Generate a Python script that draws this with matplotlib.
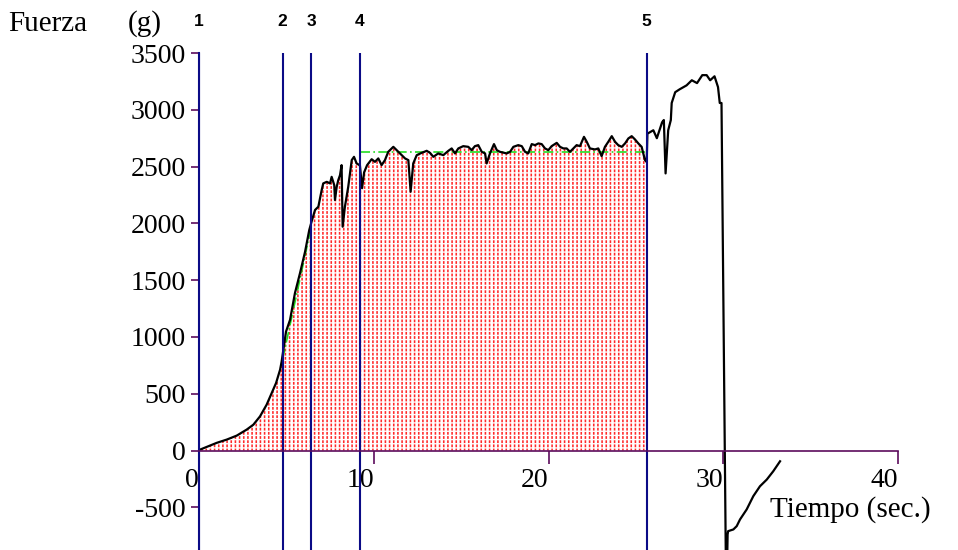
import numpy as np
import matplotlib
matplotlib.use("Agg")
import matplotlib.pyplot as plt
from matplotlib.transforms import blended_transform_factory

# Force record of the test (time in s, force in g)
time_s = [0, 0.44, 1.01, 1.59, 2.16, 2.73, 3.11, 3.49, 3.87, 4.16, 4.41, 4.64, 4.73,
          4.98, 5.21, 5.49, 5.78, 6.07, 6.31, 6.45, 6.64, 6.83, 7.02, 7.11, 7.31,
          7.50, 7.59, 7.74, 7.78, 7.88, 7.97, 8.07, 8.16, 8.22, 8.35, 8.54, 8.74,
          8.87, 9.02, 9.21, 9.33, 9.45, 9.62, 9.88, 10.07, 10.26, 10.45, 10.64,
          10.83, 11.12, 11.31, 11.50, 11.79, 11.98, 12.11, 12.26, 12.46, 12.74,
          13.03, 13.22, 13.41, 13.69, 13.98, 14.27, 14.46, 14.65, 14.84, 15.12,
          15.41, 15.60, 15.79, 15.98, 16.18, 16.37, 16.46, 16.65, 16.88, 17.04,
          17.22, 17.61, 17.80, 17.99, 18.27, 18.47, 18.66, 18.84, 19.04, 19.23,
          19.42, 19.61, 19.80, 19.99, 20.18, 20.47, 20.66, 20.85, 21.04, 21.23,
          21.42, 21.61, 21.80, 22.03, 22.19, 22.37, 22.66, 22.85, 23.04, 23.23,
          23.42, 23.62, 23.81, 23.99, 24.19, 24.38, 24.57, 24.76, 24.95, 25.14,
          25.33, 25.52, 25.62, 25.66, 26.0, 26.2, 26.5, 26.6, 26.7, 26.85, 27.0,
          27.05, 27.25, 27.5, 27.9, 28.2, 28.5, 28.8, 29.05, 29.25, 29.5, 29.7,
          29.8, 29.9, 30.15, 30.22, 30.25, 30.28, 30.58, 30.77, 30.96, 31.34,
          31.72, 32.1, 32.49, 32.86, 33.25]
force_g = [5, 32, 68, 97, 132, 185, 228, 301, 404, 507, 595, 712, 785,
           1048, 1151, 1386, 1562, 1751, 1942, 2020, 2118, 2147, 2293, 2352, 2366,
           2352, 2410, 2337, 2206, 2322, 2381, 2425, 2513, 1971, 2147, 2322, 2557,
           2586, 2528, 2510, 2310, 2450, 2513, 2565, 2542, 2572, 2513, 2557,
           2630, 2674, 2645, 2616, 2572, 2557, 2279, 2528, 2601, 2621,
           2639, 2621, 2586, 2616, 2601, 2639, 2660, 2616, 2660, 2680,
           2674, 2645, 2680, 2689, 2630, 2616, 2528, 2616, 2698, 2645,
           2630, 2616, 2630, 2674, 2689, 2680, 2630, 2616, 2698, 2689,
           2704, 2698, 2660, 2645, 2680, 2709, 2674, 2660, 2660, 2630,
           2660, 2689, 2680, 2762, 2718, 2660, 2651, 2660, 2592, 2674,
           2718, 2768, 2718, 2689, 2674, 2704, 2748, 2768, 2739, 2704,
           2674, 2557, 2540, 2790, 2820, 2750, 2890, 2910, 2440, 2820, 2910,
           3060, 3155, 3180, 3215, 3260, 3235, 3305, 3305, 3260, 3295, 3200,
           3060, 3060, -1000, -1000, -738, -709, -694, -665, -606, -518,
           -401, -314, -255, -182, -94]

# Phase markers
marker_t = [0, 4.78, 6.41, 9.21, 25.62]
marker_labels = ["1", "2", "3", "4", "5"]

# Reference lines: loading ramp and plateau level
ramp_t = [4.78, 6.41]
ramp_f = [800, 1960]
plateau_t = [9.21, 25.62]
plateau_f = [2627, 2627]

x_ticks = [0, 10, 20, 30, 40]
y_ticks = [-500, 0, 500, 1000, 1500, 2000, 2500, 3000, 3500]

W, H = 958, 550
fig = plt.figure(figsize=(W / 100, H / 100), dpi=100)
ax = fig.add_axes([199 / W, 0, 759 / W, 497 / H])
ax.set_xlim(0, 759 / 17.475)
ax.set_ylim(-875, 3500)

serif = ["Liberation Serif", "DejaVu Serif"]
navy = "#0b0b86"
purple = "#5c0c5c"

t = np.array(time_s)
f = np.array(force_g)
work = t <= marker_t[-1]

# dotted red fill under the curve up to marker 5
red_fill = ax.fill_between(t, f, 0, where=work, facecolor="none",
                           edgecolor="#ff2a2a", linewidth=0, hatch="||||", zorder=1)
gap_fill = ax.fill_between(t, f, 0, where=work, facecolor="none",
                           edgecolor="white", linewidth=0, hatch="----", zorder=1.1)
for coll, lw in ((red_fill, 1.15), (gap_fill, 1.0)):
    if hasattr(coll, "set_hatch_linewidth"):
        coll.set_hatch_linewidth(lw)

ax.plot(ramp_t, ramp_f, color="#22dd22", lw=1.2, ls="-.", zorder=2)
ax.plot(plateau_t, plateau_f, color="#22dd22", lw=1.2, ls=(0, (6, 2, 1, 2)), zorder=2)
ax.plot(t, f, color="black", lw=1.6, zorder=3)

for xm in marker_t:
    ax.axvline(xm, color=navy, lw=1.5, zorder=4)

lbl_tr = blended_transform_factory(ax.transData, fig.transFigure)
for xm, lab in zip(marker_t, marker_labels):
    ax.text(xm, 1 - 22 / H, lab, transform=lbl_tr, ha="center", va="center",
            fontsize=12.5, fontweight="bold", family=["Liberation Sans", "DejaVu Sans"],
            clip_on=False)

# axes
for s in ("top", "right"):
    ax.spines[s].set_visible(False)
ax.spines["left"].set_color(navy)
ax.spines["left"].set_linewidth(1.5)
ax.spines["bottom"].set_position(("data", 0))
ax.spines["bottom"].set_bounds(0, 40)
ax.spines["bottom"].set_color(purple)
ax.spines["bottom"].set_linewidth(1.2)
ax.spines["bottom"].set_zorder(5)

ax.set_xticks(x_ticks)
ax.set_xticklabels([str(v) for v in x_ticks], family=serif, fontsize=20, ha="right")
ax.set_yticks(y_ticks)
ax.set_yticklabels([str(v) for v in y_ticks], family=serif, fontsize=20)
ax.tick_params(axis="x", direction="out", length=9.5, width=1.2, color=purple, pad=3)
ax.tick_params(axis="y", direction="out", length=5.5, width=1.2, color=purple, pad=4)

fig.text(8 / W, 1 - 31 / H, "Fuerza", family=serif, fontsize=21, va="baseline")
fig.text(128 / W, 1 - 31 / H, "(g)", family=serif, fontsize=21, va="baseline")
fig.text(770 / W, 1 - 517 / H, "Tiempo (sec.)", family=serif, fontsize=21, va="baseline")

fig.savefig("out.png", dpi=100)
